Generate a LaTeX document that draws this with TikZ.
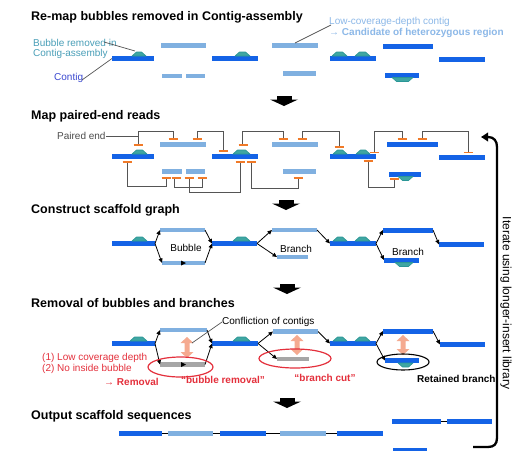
\documentclass[tikz,border=0pt]{standalone}
\usepackage{fontspec}
\setmainfont{Liberation Sans}
\usetikzlibrary{arrows.meta}
\definecolor{dkb}{HTML}{1463E6}
\definecolor{ltb}{HTML}{80B0E0}
\definecolor{tealb}{HTML}{2A9696}
\definecolor{tealf}{HTML}{3FA6A2}
\definecolor{org}{HTML}{F07A28}
\definecolor{redt}{HTML}{E4303C}
\definecolor{salm}{HTML}{F5AA90}
\definecolor{grb}{HTML}{A6A6A6}
\definecolor{conn}{HTML}{555555}
\definecolor{lblteal}{HTML}{4A9FB8}
\definecolor{lblblue}{HTML}{3A48D0}
\definecolor{lowc}{HTML}{8CB8E8}
\newcommand{\BAR}[5]{\node[#1, minimum width={(#4)-(#3)}] (#2) at ({((#3)+(#4))/2},#5) {};}
\newcommand{\BUMPU}[3]{\filldraw[fill=tealf, draw=tealb, line width=0.6pt, line join=round] (#1,#3) -- ({#1+4.5},{#3-4}) -- ({#2-4.5},{#3-4}) -- (#2,#3) -- cycle;}
\newcommand{\BUMPD}[3]{\filldraw[fill=tealf, draw=tealb, line width=0.6pt, line join=round] (#1,#3) -- ({#1+4.5},{#3+4}) -- ({#2-4.5},{#3+4}) -- (#2,#3) -- cycle;}
\newcommand{\PE}[2]{\draw[pemark] ({#1-4.5},#2) -- ({#1+4.5},#2);}
\newcommand{\DARR}[2]{\fill ({#1-7.5},#2) rectangle ({#1+7.5},{#2+3.5}); \fill ({#1-14},{#2+3.5}) -- ({#1+14},{#2+3.5}) -- (#1,{#2+10}) -- cycle;}
\newcommand{\SALM}[3]{\fill[salm] (#1,#2) -- ({#1+6.5},{#2+6}) -- ({#1+2.5},{#2+6}) -- ({#1+2.5},{#3-6}) -- ({#1+6.5},{#3-6}) -- (#1,#3) -- ({#1-6.5},{#3-6}) -- ({#1-2.5},{#3-6}) -- ({#1-2.5},{#2+6}) -- ({#1-6.5},{#2+6}) -- cycle;}
\begin{document}
\begin{tikzpicture}[x=1pt,y=-1pt,
  title/.style={anchor=west, font=\fontsize{12.5}{14}\selectfont\bfseries, inner sep=0},
  lbl/.style={font=\fontsize{10}{12}\selectfont, inner sep=0},
  blbl/.style={font=\fontsize{10}{12}\selectfont\bfseries, inner sep=0},
  barbase/.style={inner sep=0, outer sep=0, minimum height=5pt, draw=none, shape=rectangle},
  dkbar/.style={barbase, fill=dkb},
  ltbar/.style={barbase, fill=ltb, minimum height=4.5pt},
  gybar/.style={barbase, fill=grb, minimum height=4.5pt},
  conline/.style={draw=conn, line width=0.8pt},
  pemark/.style={draw=org, line width=1.4pt},
  garrow/.style={-{Triangle[length=4.5pt,width=4pt]}, line width=0.8pt},
  link/.style={line width=1.5pt}]
\useasboundingbox (0,0) rectangle (513,450);
\fill[white] (0,0) rectangle (513,450);

% ---------- Row 1 ----------
\node[title] (t1) at (31,17) {Re-map bubbles removed in Contig-assembly};
\BAR{dkbar}{r1c1}{112}{154}{58.5}
\BUMPU{132}{146}{56}
\BAR{ltbar}{r1l1}{161}{206}{45.5}
\BAR{ltbar}{r1l2}{162}{182}{76}
\BAR{ltbar}{r1l3}{186}{205}{76}
\BAR{dkbar}{r1c2}{212}{258}{58.5}
\BUMPU{235}{250}{56}
\BAR{ltbar}{r1l4}{272}{318}{45.5}
\BAR{ltbar}{r1l5}{283}{316}{73.5}
\BAR{dkbar}{r1c3}{330}{376}{58.5}
\BUMPU{332}{347}{56}
\BUMPU{355}{370}{56}
\BAR{dkbar}{r1d1}{383}{433}{46}
\BAR{dkbar}{r1d2}{385}{419}{75}
\BUMPD{392}{413}{77.5}
\BAR{dkbar}{r1d3}{439}{485}{59.5}
\node[lbl, text=lblteal, anchor=west] (lb1) at (33,43) {Bubble removed in};
\node[lbl, text=lblteal, anchor=west] (lb2) at (33,54) {Contig-assembly};
\draw[conn, line width=0.7pt] (104,42) -- (135,51);
\node[lbl, text=lblblue, anchor=west] (lc) at (54,78) {Contig};
\draw[conn, line width=0.7pt] (82,80) -- (r1c1.west);
\node[lbl, text=lowc, anchor=west] (lw1) at (329,22) {Low-coverage-depth contig};
\node[blbl, text=lowc, anchor=west] (lw2) at (329,33) {→ Candidate of heterozygous region};
\draw[conn, line width=0.7pt] (331,25) -- (295,43);
\DARR{284}{96}

% ---------- Row 2 ----------
\node[title] (t2) at (31,116) {Map paired-end reads};
\BAR{dkbar}{r2c1}{112}{154}{156.5}
\BUMPU{132}{147}{154}
\BAR{ltbar}{r2l1}{160}{206}{144.5}
\BAR{ltbar}{r2l2}{162}{182}{171.5}
\BAR{ltbar}{r2l3}{186}{205}{171.5}
\BAR{dkbar}{r2c2}{212}{258}{156.5}
\BUMPU{233}{250}{154}
\BAR{ltbar}{r2l4}{272}{318}{144.5}
\BAR{ltbar}{r2l5}{283}{316}{171.5}
\BAR{dkbar}{r2c3}{330}{376}{156.5}
\BUMPU{333}{347}{154}
\BUMPU{356}{370}{154}
\BAR{dkbar}{r2d1}{387}{438}{144.5}
\BAR{dkbar}{r2d2}{389}{421}{174}
\BUMPD{398}{413}{176.5}
\BAR{dkbar}{r2d3}{439}{485}{157.5}
% top connectors
\draw[conline] (138,145) |- (173,131) -- (173,139);
\draw[conline] (197,139) |- (223,131) -- (223,151);
\draw[conline] (242,145) |- (283,131) -- (283,139);
\draw[conline] (302,139) |- (339,131) -- (339,147);
\draw[conline] (374,152.5) |- (402,131) -- (402,139);
\draw[conline] (422,139) |- (468,131) -- (468,152.5);
% bottom connectors
\draw[conline] (127,162) |- (166,186) -- (166,178);
\draw[conline] (174,178) |- (202,187) -- (202,178);
\draw[conline] (189,178) |- (240,192) -- (240,162);
\draw[conline] (251,162) |- (298,188) -- (298,178);
\draw[conline] (368,161) |- (394,187) -- (394,179);
\PE{138}{145}\PE{173}{139}\PE{197}{139}\PE{223}{151}\PE{243}{145}\PE{283}{139}
\PE{302}{139}\PE{339}{147}\PE{374}{152.5}\PE{402}{139}\PE{422}{139}\PE{468}{152.5}
\PE{127}{162}\PE{166}{178}\PE{176}{178}\PE{202}{178}\PE{189}{178}\PE{240}{162}
\PE{251}{162}\PE{298}{178}\PE{368}{161}\PE{394}{179}
\node[lbl, text=conn!90!black, anchor=west] (pe) at (57,136) {Paired end};
\draw[conline] (pe.east) -- (138,136);
\DARR{286}{200}

% ---------- Row 3 ----------
\node[title] (t3) at (31,210) {Construct scaffold graph};
\BAR{dkbar}{r3c1}{112}{155}{243.5}
\BUMPU{132}{147}{241}
\BAR{ltbar}{r3l1}{160}{205}{230}
\BAR{ltbar}{r3b1}{162}{205}{263}
\fill (181,260.5) -- (186,263) -- (181,265.5) -- cycle;
\BAR{dkbar}{r3c2}{212}{257}{243.5}
\BUMPU{233}{250}{241}
\BAR{ltbar}{r3l2}{272}{317}{230}
\BAR{ltbar}{r3b2}{277}{308}{257}
\BAR{dkbar}{r3c3}{330}{376}{243.5}
\BUMPU{333}{347}{241}
\BUMPU{355}{370}{241}
\BAR{dkbar}{r3t3}{383}{433}{230}
\BAR{dkbar}{r3b3}{384}{419}{260}
\BUMPD{395}{413}{262.5}
\BAR{dkbar}{r3c4}{439}{484}{244.5}
\draw[garrow] (r3c1.east) -- (r3l1.west);
\draw[garrow] (r3c1.east) -- (r3b1.west);
\draw[garrow] (r3l1.east) -- (r3c2.west);
\draw[garrow] (r3b1.east) -- (r3c2.west);
\draw[garrow] (r3c2.east) -- (r3l2.west);
\draw[garrow] (r3c2.east) -- (r3b2.west);
\draw[garrow] (r3l2.east) -- (r3c3.west);
\draw[garrow] (r3c3.east) -- (r3t3.west);
\draw[garrow] (r3c3.east) -- (r3b3.west);
\draw[garrow] (r3t3.east) -- (r3c4.west);
\node[lbl] (bb) at (186,248) {Bubble};
\node[lbl] (br1) at (296,249) {Branch};
\node[lbl] (br2) at (408,252) {Branch};
\DARR{287}{284}

% ---------- Row 4 ----------
\node[title] (t4) at (31,303) {Removal of bubbles and branches};
\BAR{dkbar}{r4c1}{112}{155}{343.5}
\BUMPU{130}{147}{341}
\BAR{ltbar}{r4l1}{160}{207}{330}
\BAR{gybar}{r4g1}{160}{205}{364.5}
\fill (181,362) -- (186,364.5) -- (181,367) -- cycle;
\BAR{dkbar}{r4c2}{212}{258}{343.5}
\BUMPU{233}{250}{341}
\BAR{ltbar}{r4l2}{273}{318}{331.5}
\BAR{gybar}{r4g2}{277}{309}{359}
\BAR{dkbar}{r4c3}{330}{376}{343.5}
\BUMPU{333}{347}{341}
\BUMPU{355}{370}{341}
\BAR{dkbar}{r4t3}{383}{433}{331}
\BAR{dkbar}{r4b3}{385}{419}{360.5}
\BUMPD{398}{413}{363}
\BAR{dkbar}{r4c4}{440}{485}{344.5}
\draw[garrow] (r4c1.east) -- (r4l1.west);
\draw[garrow] (r4c1.east) -- (r4g1.west);
\draw[garrow] (r4l1.east) -- (r4c2.west);
\draw[garrow] (r4g1.east) -- (r4c2.west);
\draw[garrow] (r4c2.east) -- (r4l2.west);
\draw[garrow] (r4c2.east) -- (r4g2.west);
\draw[garrow] (r4l2.east) -- (r4c3.west);
\draw[garrow] (r4c3.east) -- (r4t3.west);
\draw[garrow] (r4c3.east) -- (r4b3.west);
\draw[garrow] (r4t3.east) -- (r4c4.west);
\SALM{187}{337}{358}
\SALM{297}{335}{355}
\SALM{403}{335}{355}
\draw[redt, line width=1.2pt] (180.5,367) ellipse [x radius=32.5, y radius=10];
\draw[redt, line width=1.2pt] (295,358.5) ellipse [x radius=36, y radius=9.5];
\draw[black, line width=1.1pt] (403,362) ellipse [x radius=26, y radius=8];
\node[lbl, anchor=west] (cf) at (222,322) {Confliction of contigs};
\draw[conn, line width=0.7pt] (cf.west) -- (192,343);
\node[lbl, text=redt, anchor=west] (rm1) at (42,358) {(1) Low coverage depth};
\node[lbl, text=redt, anchor=west] (rm2) at (42,369) {(2) No inside bubble};
\node[blbl, text=redt, anchor=west] (rm3) at (104,382) {→ Removal};
\node[blbl, text=redt] (bbr) at (223,380) {“bubble removal”};
\node[blbl, text=redt] (brc) at (325,378) {“branch cut”};
\node[blbl, anchor=west] (rtb) at (417,379) {Retained branch};
\DARR{287}{398}

% ---------- Row 5 ----------
\node[title] (t5) at (31,416) {Output scaffold sequences};
\BAR{dkbar}{o1}{119}{162}{433.5}
\BAR{ltbar}{o2}{168}{213}{433.5}
\BAR{dkbar}{o3}{220}{266}{433.5}
\BAR{ltbar}{o4}{280}{326}{433.5}
\BAR{dkbar}{o5}{337}{383}{433.5}
\draw[link] (o1.east) -- (o2.west);
\draw[link] (o2.east) -- (o3.west);
\draw[link] (o3.east) -- (o4.west);
\draw[link] (o4.east) -- (o5.west);
\BAR{dkbar}{o6}{392}{441}{421.5}
\BAR{dkbar}{o7}{447}{492}{421.5}
\draw[link] (o6.east) -- (o7.west);
\BAR{dkbar}{o8}{393}{427}{450}

% ---------- Iterate arrow ----------
\draw[line width=2.3pt, -{Triangle[length=7pt,width=8.5pt]}] (473,447) -- (488,447) .. controls (494,447) and (497,444) .. (497,438) -- (497,147) .. controls (497,141) and (494,137) .. (488,137) -- (481,137);
\node[font=\fontsize{12}{14}\selectfont, rotate=-90, inner sep=0] (it) at (506,303) {Iterate using longer-insert library};
\end{tikzpicture}
\end{document}
